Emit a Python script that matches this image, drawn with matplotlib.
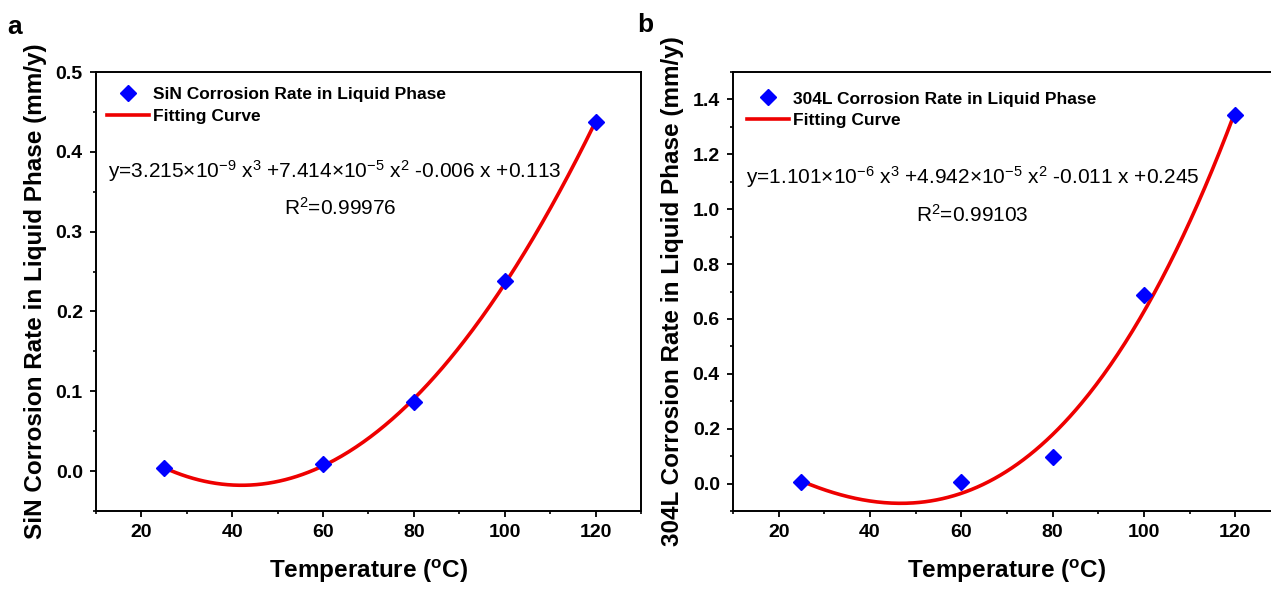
import numpy as np
import matplotlib
matplotlib.use('Agg')
import matplotlib.pyplot as plt
from matplotlib.ticker import MultipleLocator

plt.rcParams['font.family'] = ['Liberation Sans', 'DejaVu Sans']
plt.rcParams['mathtext.fontset'] = 'custom'
plt.rcParams['mathtext.rm'] = 'Liberation Sans'
plt.rcParams['mathtext.it'] = 'Liberation Sans:italic'
plt.rcParams['mathtext.bf'] = 'Liberation Sans:bold'

# data
temps = [25, 60, 80, 100, 120]
sin_rate = [0.004, 0.009, 0.086, 0.238, 0.437]
ss_rate = [0.004, 0.007, 0.098, 0.687, 1.342]

sin_label = 'SiN Corrosion Rate in Liquid Phase'
ss_label = '304L Corrosion Rate in Liquid Phase'
sin_eq = 'y=3.215×10$^{-9}$ x$^3$ +7.414×10$^{-5}$ x$^2$ -0.006 x +0.113'
ss_eq = 'y=1.101×10$^{-6}$ x$^3$ +4.942×10$^{-5}$ x$^2$ -0.011 x +0.245'
sin_r2 = 'R$^2$=0.99976'
ss_r2 = 'R$^2$=0.99103'

fig = plt.figure(figsize=(12.71, 5.89), dpi=100)
ax1 = fig.add_axes([0.0755, 0.1324, 0.4288, 0.7453])
ax2 = fig.add_axes([0.5767, 0.1324, 0.4312, 0.7453])


def panel(ax, y, label, eq, r2, ylim, ymaj, ymin, ylabel, leg_anchor, eq_pos, r2_pos):
    x = np.array(temps, dtype=float)
    yy = np.array(y, dtype=float)
    coef = np.polyfit(x, yy, 3)
    xs = np.linspace(25, 120, 300)
    ax.plot(x, yy, 'D', color='#0000ff', ms=8, ls='none', label=label, zorder=3)
    ax.plot(xs, np.polyval(coef, xs), '-', color='#ee0000', lw=2.6, label='Fitting Curve', zorder=2)
    ax.set_xlim(10, 130)
    ax.set_ylim(*ylim)
    ax.xaxis.set_major_locator(MultipleLocator(20))
    ax.xaxis.set_minor_locator(MultipleLocator(10))
    ax.yaxis.set_major_locator(MultipleLocator(ymaj))
    ax.yaxis.set_minor_locator(MultipleLocator(ymin))
    ax.tick_params(which='major', direction='out', length=4.5, width=1.3, labelsize=14, pad=5)
    ax.tick_params(which='minor', direction='out', length=2.5, width=1.2)
    for t in ax.get_xticklabels() + ax.get_yticklabels():
        t.set_fontweight('bold')
    for s in ax.spines.values():
        s.set_linewidth(1.4)
    ax.set_xlabel('Temperature ($^{\\mathbf{o}}$C)', fontsize=17.5, fontweight='bold', labelpad=12)
    ax.set_ylabel(ylabel, fontsize=17.5, fontweight='bold', labelpad=6)
    ax.legend(loc='upper left', bbox_to_anchor=leg_anchor, frameon=False, numpoints=1,
              handlelength=2.4, handletextpad=0.25, labelspacing=0.38,
              borderpad=0, borderaxespad=0, prop={'size': 12.5, 'weight': 'bold'})
    ax.text(eq_pos[0], eq_pos[1], eq, transform=ax.transAxes, fontsize=15, ha='center', va='center')
    ax.text(r2_pos[0], r2_pos[1], r2, transform=ax.transAxes, fontsize=15, ha='center', va='center')


panel(ax1, sin_rate, sin_label, sin_eq, sin_r2, (-0.05, 0.5), 0.1, 0.05,
      'SiN Corrosion Rate in Liquid Phase (mm/y)', (0.02, 0.966), (0.439, 0.774), (0.448, 0.69))
panel(ax2, ss_rate, ss_label, ss_eq, ss_r2, (-0.1, 1.5), 0.2, 0.1,
      '304L Corrosion Rate in Liquid Phase (mm/y)', (0.026, 0.956), (0.438, 0.761), (0.436, 0.674))

fig.text(0.006, 0.955, 'a', fontsize=19, fontweight='bold', ha='left', va='center')
fig.text(0.501, 0.958, 'b', fontsize=19, fontweight='bold', ha='left', va='center')

fig.savefig('out.png', dpi=100)
